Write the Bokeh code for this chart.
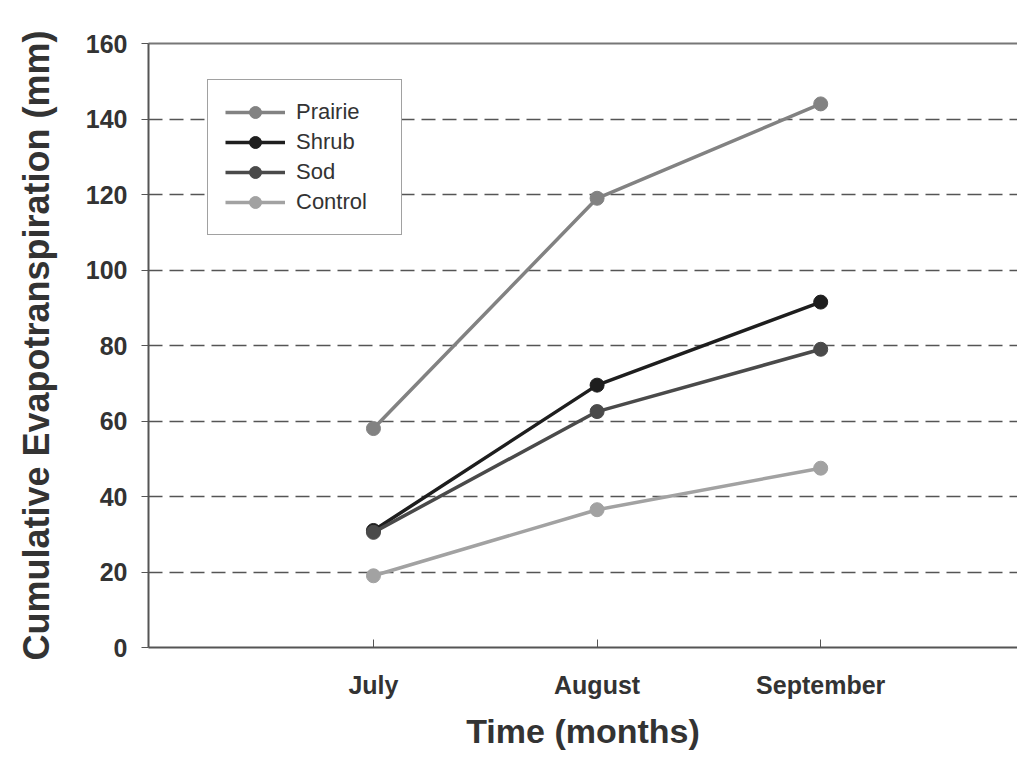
from bokeh.plotting import figure
from bokeh.models import Range1d, FixedTicker, LinearAxis, Legend, LegendItem
from bokeh.embed import file_html
from bokeh.resources import INLINE

months = ["July", "August", "September"]
month_pos = [1, 2, 3]
prairie = [58, 119, 144]
shrub = [31, 69.5, 91.5]
sod = [30.5, 62.5, 79]
control = [19, 36.5, 47.5]
y_ticks = [0, 20, 40, 60, 80, 100, 120, 140, 160]

series = [
    ("Prairie", prairie, "#828282"),
    ("Shrub", shrub, "#1e1e1e"),
    ("Sod", sod, "#4a4a4a"),
    ("Control", control, "#a2a2a2"),
]

FONT = "Liberation Sans"

p = figure(width=1017, height=752, output_backend="svg", toolbar_location=None,
           x_range=Range1d(-0.006, 3.88), y_range=Range1d(0, 160),
           min_border_left=148, min_border_right=0, min_border_top=43, min_border_bottom=105)
p.outline_line_color = None
p.background_fill_color = "white"
p.border_fill_color = "white"

# grid
p.xgrid.grid_line_color = None
p.ygrid.ticker = FixedTicker(ticks=y_ticks[1:-1])
p.ygrid.grid_line_color = "#555555"
p.ygrid.grid_line_width = 1.5
p.ygrid.grid_line_dash = "14 7"

# axes
xa = p.xaxis[0]
xa.ticker = FixedTicker(ticks=month_pos)
xa.major_label_overrides = {pos: m for pos, m in zip(month_pos, months)}
xa.major_tick_in = 8
xa.major_tick_out = 0
xa.minor_tick_line_color = None
xa.axis_line_color = "#555555"
xa.axis_line_width = 2
xa.major_tick_line_color = "#555555"
xa.major_label_text_font = FONT
xa.major_label_text_font_style = "bold"
xa.major_label_text_font_size = "25px"
xa.major_label_text_color = "#333333"
xa.major_label_standoff = 23
xa.axis_label = "Time (months)"
xa.axis_label_text_font = FONT
xa.axis_label_text_font_style = "bold"
xa.axis_label_text_font_size = "34px"
xa.axis_label_text_color = "#333333"
xa.axis_label_standoff = 10

ya = p.yaxis[0]
ya.ticker = FixedTicker(ticks=y_ticks)
ya.major_tick_in = 0
ya.major_tick_out = 7
ya.minor_tick_line_color = None
ya.axis_line_color = "#555555"
ya.axis_line_width = 2
ya.major_tick_line_color = "#555555"
ya.major_label_text_font = FONT
ya.major_label_text_font_style = "bold"
ya.major_label_text_font_size = "25px"
ya.major_label_text_color = "#333333"
ya.major_label_standoff = 14
ya.axis_label = "Cumulative Evapotranspiration (mm)"
ya.axis_label_text_font = FONT
ya.axis_label_text_font_style = "bold"
ya.axis_label_text_font_size = "36px"
ya.axis_label_text_color = "#333333"
ya.axis_label_standoff = 26

top = LinearAxis(major_tick_line_color=None, minor_tick_line_color=None,
                 major_label_text_font_size="0px", axis_line_color="#777777",
                 axis_line_width=2, ticker=FixedTicker(ticks=[]))
p.add_layout(top, "above")

items = []
for name, vals, col in series:
    r1 = p.line(month_pos, vals, line_color=col, line_width=3.5)
    r2 = p.scatter(month_pos, vals, size=14, fill_color=col, line_color=col)
    items.append(LegendItem(label=name, renderers=[r1, r2]))

legend = Legend(items=items, location=(59, 412), glyph_width=60, glyph_height=30,
                spacing=0, padding=17, label_text_font=FONT, label_text_font_size="22px",
                label_text_color="#333333", label_standoff=11, label_width=88,
                border_line_color="#444444", border_line_width=1.5,
                background_fill_color="white", background_fill_alpha=1.0)
p.add_layout(legend, "center")

open("out.html", "w").write(file_html(p, INLINE))
